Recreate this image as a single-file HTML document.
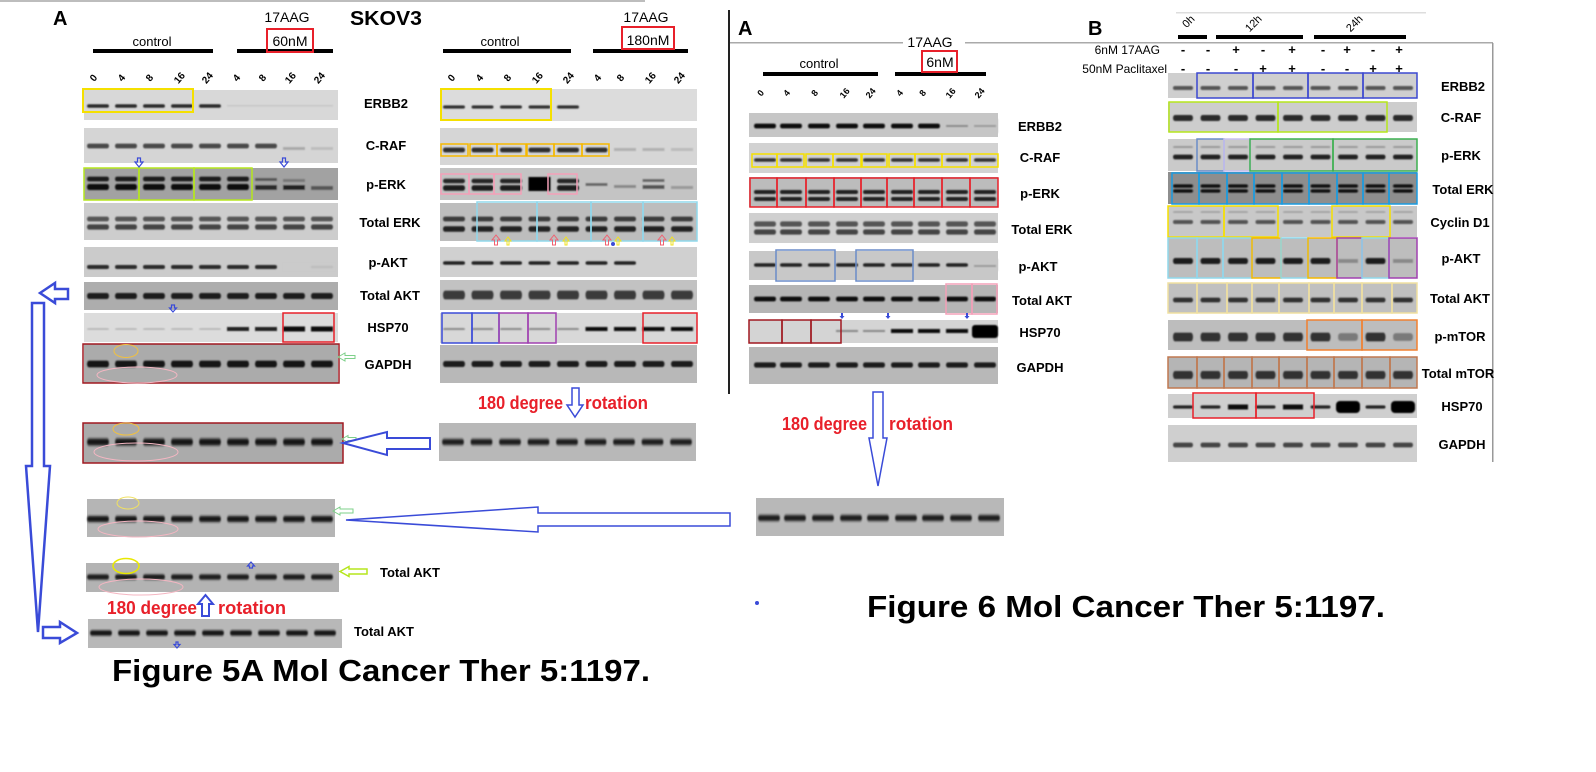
<!DOCTYPE html>
<html><head><meta charset="utf-8">
<style>html,body{margin:0;padding:0;background:#fff;}svg{display:block}</style>
</head><body>
<svg width="1596" height="772" viewBox="0 0 1596 772" xmlns="http://www.w3.org/2000/svg" xmlns:xlink="http://www.w3.org/1999/xlink" font-family="'Liberation Sans', Arial, sans-serif">
<defs>
<filter id="bl" x="-5%" y="-50%" width="110%" height="200%"><feGaussianBlur stdDeviation="0.8"/></filter>
<g id="r1"><rect x="87" y="-2" width="22" height="4" rx="2"/><rect x="115" y="-2" width="22" height="4" rx="2"/><rect x="143" y="-2" width="22" height="4" rx="2"/><rect x="171" y="-2" width="22" height="4" rx="2"/><rect x="199" y="-2" width="22" height="4" rx="2"/><rect x="227" y="-2" width="22" height="4" rx="2"/><rect x="255" y="-2" width="22" height="4" rx="2"/><rect x="283" y="-2" width="22" height="4" rx="2"/><rect x="311" y="-2" width="22" height="4" rx="2"/></g>
<g id="r2"><rect x="443" y="-2" width="22" height="4" rx="2"/><rect x="471.5" y="-2" width="22" height="4" rx="2"/><rect x="500" y="-2" width="22" height="4" rx="2"/><rect x="528.5" y="-2" width="22" height="4" rx="2"/><rect x="557" y="-2" width="22" height="4" rx="2"/><rect x="585.5" y="-2" width="22" height="4" rx="2"/><rect x="614" y="-2" width="22" height="4" rx="2"/><rect x="642.5" y="-2" width="22" height="4" rx="2"/><rect x="671" y="-2" width="22" height="4" rx="2"/></g>
<g id="r3"><rect x="754" y="-2" width="22" height="4" rx="2"/><rect x="780" y="-2" width="22" height="4" rx="2"/><rect x="808" y="-2" width="22" height="4" rx="2"/><rect x="836" y="-2" width="22" height="4" rx="2"/><rect x="863" y="-2" width="22" height="4" rx="2"/><rect x="891" y="-2" width="22" height="4" rx="2"/><rect x="918" y="-2" width="22" height="4" rx="2"/><rect x="946" y="-2" width="22" height="4" rx="2"/><rect x="974" y="-2" width="22" height="4" rx="2"/></g>
<g id="r4"><rect x="1173" y="-2" width="20" height="4" rx="2"/><rect x="1200.5" y="-2" width="20" height="4" rx="2"/><rect x="1228" y="-2" width="20" height="4" rx="2"/><rect x="1255.5" y="-2" width="20" height="4" rx="2"/><rect x="1283" y="-2" width="20" height="4" rx="2"/><rect x="1310.5" y="-2" width="20" height="4" rx="2"/><rect x="1338" y="-2" width="20" height="4" rx="2"/><rect x="1365.5" y="-2" width="20" height="4" rx="2"/><rect x="1393" y="-2" width="20" height="4" rx="2"/></g>
</defs>

<!-- top faint line -->
<rect x="0" y="0" width="645" height="2" fill="#bdbdbd"/>

<!-- ================= PANEL 1 ================= -->
<text x="53" y="25" font-size="20" font-weight="bold">A</text>
<text x="287" y="22" font-size="14" text-anchor="middle">17AAG</text>
<text x="350" y="25" font-size="20" font-weight="bold" textLength="72" lengthAdjust="spacingAndGlyphs">SKOV3</text>
<text x="152" y="46" font-size="13" text-anchor="middle">control</text>
<rect x="93" y="49" width="120" height="4" fill="#000"/>
<rect x="237" y="49" width="96" height="4" fill="#000"/>
<text x="290" y="46" font-size="14" text-anchor="middle">60nM</text>
<rect x="267" y="29" width="46" height="23" fill="none" stroke="#e8202a" stroke-width="2"/>
<g font-size="10" font-weight="bold" text-anchor="middle">
<text transform="translate(96,80) rotate(-50)">0</text>
<text transform="translate(124,80) rotate(-50)">4</text>
<text transform="translate(152,80) rotate(-50)">8</text>
<text transform="translate(182,80) rotate(-50)">16</text>
<text transform="translate(210,80) rotate(-50)">24</text>
<text transform="translate(239,80) rotate(-50)">4</text>
<text transform="translate(265,80) rotate(-50)">8</text>
<text transform="translate(293,80) rotate(-50)">16</text>
<text transform="translate(322,80) rotate(-50)">24</text>
</g>
<g>
<rect x="84" y="90" width="254" height="30" fill="#d8d8d8"/>
<rect x="84" y="128" width="254" height="35" fill="#d5d5d5"/>
<rect x="84" y="168" width="254" height="32" fill="#a2a2a2"/>
<rect x="84" y="203" width="254" height="37" fill="#cdcdcd"/>
<rect x="84" y="247" width="254" height="30" fill="#cbcbcb"/>
<rect x="84" y="282" width="254" height="28" fill="#adadad"/>
<rect x="84" y="313" width="254" height="29" fill="#dcdcdc"/>
<rect x="84" y="344" width="254" height="39" fill="#ababab"/>
</g>
<g filter="url(#bl)">
<use xlink:href="#r1" transform="translate(0,106) scale(1,0.9)" fill="#2a2a2a"/>
<rect x="225" y="100" width="112" height="12" fill="#d8d8d8"/>
<rect x="227" y="105" width="106" height="1.5" fill="#c6c6c6"/>
<use xlink:href="#r1" transform="translate(0,146) scale(1,1.2)" fill="#4a4a4a"/>
<rect x="281" y="139" width="56" height="15" fill="#d5d5d5"/>
<rect x="283" y="147" width="22" height="3" fill="#a8a8a8"/><rect x="311" y="147" width="22" height="3" fill="#bdbdbd"/>
<use xlink:href="#r1" transform="translate(0,179) scale(1,1.2)" fill="#1e1e1e"/>
<use xlink:href="#r1" transform="translate(0,187) scale(1,1.5)" fill="#0e0e0e"/>
<rect x="253" y="172" width="84" height="24" fill="#a2a2a2"/>
<rect x="255" y="178" width="22" height="3" fill="#555"/><rect x="255" y="185" width="22" height="5" fill="#2a2a2a"/>
<rect x="283" y="179" width="22" height="3" fill="#777"/><rect x="283" y="185" width="22" height="5" fill="#222"/>
<rect x="311" y="186" width="22" height="4" fill="#555"/>
<use xlink:href="#r1" transform="translate(0,219) scale(1,1.2)" fill="#555"/>
<use xlink:href="#r1" transform="translate(0,227) scale(1,1.3)" fill="#444"/>
<use xlink:href="#r1" transform="translate(0,267)" fill="#2a2a2a"/>
<rect x="281" y="261" width="56" height="12" fill="#cbcbcb"/>
<rect x="311" y="266" width="22" height="2" fill="#bbb"/>
<use xlink:href="#r1" transform="translate(0,296) scale(1,1.5)" fill="#1e1e1e"/>
<use xlink:href="#r1" transform="translate(0,329) scale(1,0.4)" fill="#b0b0b0"/>
<rect x="227" y="327" width="22" height="4" fill="#222"/><rect x="255" y="327" width="22" height="4" fill="#222"/>
<rect x="283" y="326.5" width="22" height="5" fill="#111"/><rect x="311" y="326.5" width="22" height="5" fill="#111"/>
<use xlink:href="#r1" transform="translate(0,364) scale(1,1.7)" fill="#151515"/>
</g>
<!-- P1 overlays -->
<rect x="83" y="89" width="110" height="23" fill="none" stroke="#f5e000" stroke-width="2"/>
<g fill="none" stroke="#b5e61d" stroke-width="1.5">
<rect x="84" y="168" width="55" height="32"/><rect x="139" y="168" width="55" height="32"/><rect x="194" y="168" width="58" height="32"/>
</g>
<rect x="283" y="313" width="51" height="29" fill="none" stroke="#e8202a" stroke-width="1.5"/>
<rect x="83" y="344" width="256" height="39" fill="none" stroke="#a01820" stroke-width="1.5"/>
<ellipse cx="126" cy="351" rx="12" ry="6.5" fill="none" stroke="#f0c040" stroke-width="1"/>
<ellipse cx="137" cy="375" rx="40" ry="8" fill="none" stroke="#f4b6c2" stroke-width="1"/>
<polygon points="338,357 345,353 345,355.5 355,355.5 355,358.5 345,358.5 345,361" fill="none" stroke="#7ed08a" stroke-width="1"/>
<g fill="none" stroke="#3a4bd8" stroke-width="1.2">
<polygon points="139,167 135,162 137.5,162 137.5,158 140.5,158 140.5,162 143,162"/>
<polygon points="284,167 280,162 282.5,162 282.5,158 285.5,158 285.5,162 288,162"/>
<polygon points="173,312 169.5,308 171.5,308 171.5,305 174.5,305 174.5,308 176.5,308"/>
</g>
<g font-size="13" font-weight="bold" text-anchor="middle">
<text x="386" y="108">ERBB2</text>
<text x="386" y="150">C-RAF</text>
<text x="386" y="189">p-ERK</text>
<text x="390" y="227">Total ERK</text>
<text x="388" y="267">p-AKT</text>
<text x="390" y="300">Total AKT</text>
<text x="388" y="332">HSP70</text>
<text x="388" y="369">GAPDH</text>
</g>

<!-- GAPDH copy -->
<rect x="83" y="423" width="260" height="40" fill="#ababab"/>
<use xlink:href="#r1" transform="translate(0,442) scale(1,1.7)" fill="#151515" filter="url(#bl)"/>
<rect x="83" y="423" width="260" height="40" fill="none" stroke="#a01820" stroke-width="1.5"/>
<ellipse cx="126" cy="429" rx="13" ry="6" fill="none" stroke="#f0c040" stroke-width="1"/>
<ellipse cx="136" cy="452" rx="42" ry="9" fill="none" stroke="#f4b6c2" stroke-width="1"/>
<polygon points="342,439 348,435.5 348,437.5 356,437.5 356,440.5 348,440.5 348,442.5" fill="none" stroke="#7ed08a" stroke-width="1"/>
<polygon points="343,443 387,432 387,438 430,438 430,449 387,449 387,455" fill="#fff" stroke="#3a4bd8" stroke-width="2"/>

<!-- rot1 -->
<rect x="87" y="499" width="248" height="38" fill="#b5b5b5"/>
<use xlink:href="#r1" transform="translate(0,519) scale(1,1.5)" fill="#151515" filter="url(#bl)"/>
<ellipse cx="128" cy="503" rx="11" ry="6" fill="none" stroke="#f0e060" stroke-width="1"/>
<ellipse cx="138" cy="529" rx="40" ry="8" fill="none" stroke="#f4b6c2" stroke-width="1"/>
<polygon points="333,511 340,507 340,509 353,509 353,513 340,513 340,515" fill="none" stroke="#7ed08a" stroke-width="1"/>
<polygon points="346,520 538,507 538,513 730,513 730,526 538,526 538,532" fill="#fff" stroke="#3a4bd8" stroke-width="1.5"/>

<!-- Total AKT copy -->
<rect x="86" y="563" width="253" height="29" fill="#b3b3b3"/>
<use xlink:href="#r1" transform="translate(0,577) scale(1,1.3)" fill="#1e1e1e" filter="url(#bl)"/>
<ellipse cx="126" cy="566" rx="13" ry="7.5" fill="none" stroke="#e8e800" stroke-width="1.5"/>
<ellipse cx="141" cy="587" rx="42" ry="8" fill="none" stroke="#f4b6c2" stroke-width="1"/>
<polygon points="251,562 247.5,566 249.5,566 249.5,568 252.5,568 252.5,566 254.5,566" fill="none" stroke="#3a4bd8" stroke-width="1.2"/>
<polygon points="340,571.5 349,566.5 349,569 367,569 367,574 349,574 349,576.5" fill="none" stroke="#b5e61d" stroke-width="1.5"/>
<text x="380" y="577" font-size="13" font-weight="bold">Total AKT</text>
<text x="107" y="614" font-size="18" font-weight="bold" fill="#e8202a" textLength="90" lengthAdjust="spacingAndGlyphs">180 degree</text>
<polygon points="205.5,595 198,604 202,604 202,616 209,616 209,604 213,604" fill="#fff" stroke="#3a4bd8" stroke-width="2"/>
<text x="218" y="614" font-size="18" font-weight="bold" fill="#e8202a" textLength="68" lengthAdjust="spacingAndGlyphs">rotation</text>

<!-- bottom blot -->
<rect x="88" y="619" width="254" height="29" fill="#b8b8b8"/>
<use xlink:href="#r1" transform="translate(3,633) scale(1,1.3)" fill="#151515" filter="url(#bl)"/>
<polygon points="177,648 174,644.5 176,644.5 176,642 178,642 178,644.5 180,644.5" fill="none" stroke="#3a4bd8" stroke-width="1.2"/>
<text x="354" y="636" font-size="13" font-weight="bold">Total AKT</text>

<!-- left long arrow -->
<polygon points="40,293 55,283 55,289 68,289 68,299 55,299 55,303" fill="#fff" stroke="#3a4bd8" stroke-width="2.5"/>
<polygon points="32,303 44,303 44,466 50,466 38,632 26,466 32,466" fill="#fff" stroke="#3a4bd8" stroke-width="2.5"/>
<polygon points="43,627 60,627 60,622 77,633 60,643 60,638 43,638" fill="#fff" stroke="#3a4bd8" stroke-width="2.5"/>

<text x="112" y="681" font-size="31" font-weight="bold" textLength="538" lengthAdjust="spacingAndGlyphs">Figure 5A Mol Cancer Ther 5:1197.</text>

<!-- ================= PANEL 2 ================= -->
<text x="646" y="22" font-size="14" text-anchor="middle">17AAG</text>
<text x="500" y="46" font-size="13" text-anchor="middle">control</text>
<rect x="443" y="49" width="128" height="4" fill="#000"/>
<rect x="593" y="49" width="95" height="4" fill="#000"/>
<text x="648" y="45" font-size="14" text-anchor="middle">180nM</text>
<rect x="622" y="27" width="52" height="22" fill="none" stroke="#e8202a" stroke-width="2"/>
<g font-size="10" font-weight="bold" text-anchor="middle">
<text transform="translate(454,80) rotate(-50)">0</text>
<text transform="translate(482,80) rotate(-50)">4</text>
<text transform="translate(510,80) rotate(-50)">8</text>
<text transform="translate(540,80) rotate(-50)">16</text>
<text transform="translate(571,80) rotate(-50)">24</text>
<text transform="translate(600,80) rotate(-50)">4</text>
<text transform="translate(623,80) rotate(-50)">8</text>
<text transform="translate(653,80) rotate(-50)">16</text>
<text transform="translate(682,80) rotate(-50)">24</text>
</g>
<g>
<rect x="440" y="89" width="257" height="32" fill="#dcdcdc"/>
<rect x="440" y="128" width="257" height="37" fill="#d6d6d6"/>
<rect x="440" y="168" width="257" height="32" fill="#c4c4c4"/>
<rect x="440" y="203" width="257" height="38" fill="#bdbdbd"/>
<rect x="440" y="247" width="257" height="30" fill="#d0d0d0"/>
<rect x="440" y="280" width="257" height="30" fill="#c2c2c2"/>
<rect x="440" y="313" width="257" height="30" fill="#d8d8d8"/>
<rect x="440" y="345" width="257" height="38" fill="#b8b8b8"/>
</g>
<g filter="url(#bl)">
<use xlink:href="#r2" transform="translate(0,107) scale(1,0.8)" fill="#333"/>
<rect x="582" y="100" width="114" height="13" fill="#dcdcdc"/>
<use xlink:href="#r2" transform="translate(0,150) scale(1,1.2)" fill="#2e2e2e"/>
<rect x="612" y="142" width="84" height="16" fill="#d6d6d6"/>
<rect x="614" y="148" width="22" height="3" fill="#b0b0b0"/><rect x="642.5" y="148" width="22" height="3" fill="#b0b0b0"/><rect x="671" y="148" width="22" height="3" fill="#bbb"/>
<use xlink:href="#r2" transform="translate(0,181) scale(1,1.1)" fill="#262626"/>
<use xlink:href="#r2" transform="translate(0,188) scale(1,1.4)" fill="#1a1a1a"/>
<rect x="528.5" y="177" width="22" height="14" fill="#050505"/>
<rect x="584" y="172" width="112" height="24" fill="#c4c4c4"/>
<rect x="585.5" y="183" width="22" height="3" fill="#666"/>
<rect x="614" y="185" width="22" height="3" fill="#888"/>
<rect x="642.5" y="179" width="22" height="3" fill="#666"/><rect x="642.5" y="185" width="22" height="4" fill="#555"/>
<rect x="671" y="186" width="22" height="3" fill="#999"/>
<use xlink:href="#r2" transform="translate(0,219) scale(1,1.2)" fill="#3a3a3a"/>
<use xlink:href="#r2" transform="translate(0,229) scale(1,1.4)" fill="#222"/>
<use xlink:href="#r2" transform="translate(0,263) scale(1,0.9)" fill="#222"/>
<rect x="639" y="257" width="57" height="12" fill="#d0d0d0"/>
<use xlink:href="#r2" transform="translate(0,295) scale(1,2.2)" fill="#3a3a3a"/>
<use xlink:href="#r2" transform="translate(0,329) scale(1,0.5)" fill="#8a8a8a"/>
<rect x="585.5" y="327" width="22" height="4" fill="#111"/><rect x="614" y="327" width="22" height="4" fill="#111"/><rect x="642.5" y="327" width="22" height="4" fill="#111"/><rect x="671" y="327" width="22" height="4" fill="#111"/>
<use xlink:href="#r2" transform="translate(0,364) scale(1,1.5)" fill="#1e1e1e"/>
</g>
<!-- P2 overlays -->
<rect x="441" y="89" width="110" height="31" fill="none" stroke="#f5e000" stroke-width="2"/>
<g fill="none" stroke="#f5b800" stroke-width="1.5">
<rect x="441" y="144" width="27" height="12"/><rect x="470" y="144" width="27" height="12"/><rect x="497" y="144" width="29" height="12"/><rect x="527" y="144" width="27" height="12"/><rect x="554" y="144" width="28" height="12"/><rect x="582" y="144" width="27" height="12"/>
</g>
<g fill="none" stroke="#f4a0b8" stroke-width="1.5">
<rect x="441" y="174" width="28" height="20"/><rect x="469" y="174" width="25" height="20"/><rect x="494" y="174" width="27" height="20"/><rect x="548" y="174" width="29" height="20"/>
</g>
<g fill="none" stroke="#90d8ec" stroke-width="1.5">
<rect x="477" y="202" width="60" height="39"/><rect x="537" y="202" width="54" height="39"/><rect x="591" y="202" width="52" height="39"/><rect x="643" y="202" width="54" height="39"/>
</g>
<g fill="none" stroke="#f06070" stroke-width="1">
<polygon points="496,235 492,240 494.5,240 494.5,245 497.5,245 497.5,240 500,240"/>
<polygon points="554,235 550,240 552.5,240 552.5,245 555.5,245 555.5,240 558,240"/>
<polygon points="607,235 603,240 605.5,240 605.5,245 608.5,245 608.5,240 611,240"/>
<polygon points="662,235 658,240 660.5,240 660.5,245 663.5,245 663.5,240 666,240"/>
</g>
<g fill="none" stroke="#f0e020" stroke-width="1">
<polygon points="508,237 505,241 507,241 507,245 509,245 509,241 511,241"/>
<polygon points="566,237 563,241 565,241 565,245 567,245 567,241 569,241"/>
<polygon points="618,237 615,241 617,241 617,245 619,245 619,241 621,241"/>
<polygon points="672,237 669,241 671,241 671,245 673,245 673,241 675,241"/>
</g>
<circle cx="613" cy="244" r="2" fill="#3a4bd8"/>
<g fill="none" stroke-width="1.5">
<rect x="442" y="313" width="30" height="30" stroke="#3a4bd8"/><rect x="472" y="313" width="27" height="30" stroke="#3a4bd8"/>
<rect x="499" y="313" width="29" height="30" stroke="#a040b0"/><rect x="528" y="313" width="28" height="30" stroke="#a040b0"/>
<rect x="643" y="313" width="54" height="30" stroke="#e8202a"/>
</g>
<text x="478" y="409" font-size="18" font-weight="bold" fill="#e8202a" textLength="85" lengthAdjust="spacingAndGlyphs">180 degree</text>
<polygon points="572,388 579,388 579,405 583,405 575,417 567,405 572,405" fill="#fff" stroke="#3a4bd8" stroke-width="1.5"/>
<text x="585" y="409" font-size="18" font-weight="bold" fill="#e8202a" textLength="63" lengthAdjust="spacingAndGlyphs">rotation</text>
<rect x="439" y="423" width="257" height="38" fill="#b8b8b8"/>
<use xlink:href="#r2" transform="translate(-1,442) scale(1,1.5)" fill="#1e1e1e" filter="url(#bl)"/>

<!-- ================= PANEL 3 ================= -->
<rect x="728" y="10" width="2" height="384" fill="#222"/>
<rect x="730" y="42" width="173" height="1.5" fill="#aaa"/>
<rect x="965" y="42" width="528" height="1.5" fill="#aaa"/>
<text x="738" y="35" font-size="20" font-weight="bold">A</text>
<text x="930" y="47" font-size="14" text-anchor="middle">17AAG</text>
<text x="819" y="68" font-size="13" text-anchor="middle">control</text>
<rect x="763" y="72" width="115" height="4" fill="#000"/>
<rect x="895" y="72" width="91" height="4" fill="#000"/>
<text x="940" y="67" font-size="14" text-anchor="middle">6nM</text>
<rect x="922" y="51" width="35" height="21" fill="none" stroke="#e8202a" stroke-width="2"/>
<g font-size="9" font-weight="bold" text-anchor="middle">
<text transform="translate(763,95) rotate(-50)">0</text>
<text transform="translate(789,95) rotate(-50)">4</text>
<text transform="translate(817,95) rotate(-50)">8</text>
<text transform="translate(847,95) rotate(-50)">16</text>
<text transform="translate(873,95) rotate(-50)">24</text>
<text transform="translate(902,95) rotate(-50)">4</text>
<text transform="translate(925,95) rotate(-50)">8</text>
<text transform="translate(953,95) rotate(-50)">16</text>
<text transform="translate(982,95) rotate(-50)">24</text>
</g>
<g>
<rect x="749" y="113" width="249" height="24" fill="#c6c6c6"/>
<rect x="749" y="143" width="249" height="30" fill="#d2d2d2"/>
<rect x="749" y="177" width="249" height="30" fill="#bcbcbc"/>
<rect x="749" y="213" width="249" height="30" fill="#d0d0d0"/>
<rect x="749" y="251" width="249" height="29" fill="#c8c8c8"/>
<rect x="749" y="285" width="249" height="28" fill="#b5b5b5"/>
<rect x="749" y="320" width="249" height="23" fill="#d4d4d4"/>
<rect x="749" y="347" width="249" height="37" fill="#b8b8b8"/>
</g>
<g filter="url(#bl)">
<use xlink:href="#r3" transform="translate(0,126) scale(1,1.2)" fill="#111"/>
<rect x="943" y="119" width="55" height="14" fill="#c6c6c6"/>
<rect x="946" y="125" width="22" height="2" fill="#888"/><rect x="974" y="125" width="22" height="2" fill="#999"/>
<use xlink:href="#r3" transform="translate(0,160) scale(1,0.9)" fill="#333"/>
<use xlink:href="#r3" transform="translate(0,192)" fill="#222"/>
<use xlink:href="#r3" transform="translate(0,199)" fill="#222"/>
<use xlink:href="#r3" transform="translate(0,224) scale(1,1.3)" fill="#555"/>
<use xlink:href="#r3" transform="translate(0,232) scale(1,1.3)" fill="#444"/>
<use xlink:href="#r3" transform="translate(0,265) scale(1,0.9)" fill="#222"/>
<rect x="972" y="259" width="26" height="12" fill="#c8c8c8"/>
<rect x="974" y="265" width="22" height="2" fill="#999"/>
<use xlink:href="#r3" transform="translate(0,299) scale(1,1.2)" fill="#111"/>
<rect x="836" y="330" width="22" height="2" fill="#888"/><rect x="863" y="330" width="22" height="2" fill="#888"/>
<rect x="891" y="329" width="22" height="4" fill="#111"/><rect x="918" y="329" width="22" height="4" fill="#111"/><rect x="946" y="329" width="22" height="4" fill="#111"/>
<rect x="972" y="325" width="26" height="13" rx="3" fill="#000"/>
<use xlink:href="#r3" transform="translate(0,365) scale(1,1.3)" fill="#1a1a1a"/>
</g>
<!-- P3 overlays -->
<g fill="none" stroke="#f5e000" stroke-width="1.5">
<rect x="752" y="154" width="25" height="13"/><rect x="777" y="154" width="27" height="13"/><rect x="806" y="154" width="27" height="13"/><rect x="833" y="154" width="28" height="13"/><rect x="862" y="154" width="25" height="13"/><rect x="889" y="154" width="26" height="13"/><rect x="915" y="154" width="27" height="13"/><rect x="942" y="154" width="28" height="13"/><rect x="970" y="154" width="28" height="13"/>
</g>
<g fill="none" stroke="#e8202a" stroke-width="1.5">
<rect x="750" y="178" width="27" height="29"/><rect x="777" y="178" width="29" height="29"/><rect x="806" y="178" width="28" height="29"/><rect x="834" y="178" width="27" height="29"/><rect x="861" y="178" width="26" height="29"/><rect x="887" y="178" width="27" height="29"/><rect x="914" y="178" width="28" height="29"/><rect x="942" y="178" width="28" height="29"/><rect x="970" y="178" width="28" height="29"/>
</g>
<g fill="none" stroke="#6a8cc8" stroke-width="1.5">
<rect x="776" y="250" width="59" height="31"/><rect x="856" y="250" width="57" height="31"/>
</g>
<g fill="none" stroke="#f4a0b8" stroke-width="1.5">
<rect x="946" y="284" width="26" height="30"/><rect x="972" y="284" width="25" height="30"/>
</g>
<g fill="none" stroke="#a01820" stroke-width="1.5">
<rect x="749" y="320" width="33" height="23"/><rect x="782" y="320" width="29" height="23"/><rect x="811" y="320" width="30" height="23"/>
</g>
<g fill="#3a4bd8">
<polygon points="842,319 839.5,316 841,316 841,313 843,313 843,316 844.5,316"/>
<polygon points="888,319 885.5,316 887,316 887,313 889,313 889,316 890.5,316"/>
<polygon points="967,319 964.5,316 966,316 966,313 968,313 968,316 969.5,316"/>
</g>
<g font-size="13" font-weight="bold" text-anchor="middle">
<text x="1040" y="131">ERBB2</text>
<text x="1040" y="162">C-RAF</text>
<text x="1040" y="198">p-ERK</text>
<text x="1042" y="234">Total ERK</text>
<text x="1038" y="271">p-AKT</text>
<text x="1042" y="305">Total AKT</text>
<text x="1040" y="337">HSP70</text>
<text x="1040" y="372">GAPDH</text>
</g>
<text x="782" y="430" font-size="18" font-weight="bold" fill="#e8202a" textLength="85" lengthAdjust="spacingAndGlyphs">180 degree</text>
<text x="889" y="430" font-size="18" font-weight="bold" fill="#e8202a" textLength="64" lengthAdjust="spacingAndGlyphs">rotation</text>
<polygon points="873,392 883,392 883,438 887,438 878,486 869,438 873,438" fill="#fff" stroke="#3a4bd8" stroke-width="1.5"/>
<rect x="756" y="498" width="248" height="38" fill="#b8b8b8"/>
<use xlink:href="#r3" transform="translate(4,518) scale(1,1.5)" fill="#1a1a1a" filter="url(#bl)"/>
<circle cx="757" cy="603" r="2" fill="#3a4bd8"/>
<text x="867" y="617" font-size="31" font-weight="bold" textLength="518" lengthAdjust="spacingAndGlyphs">Figure 6 Mol Cancer Ther 5:1197.</text>

<!-- ================= PANEL B ================= -->
<text x="1088" y="35" font-size="20" font-weight="bold">B</text>
<rect x="1176" y="12" width="250" height="1.5" fill="#ddd"/>
<g font-size="11" text-anchor="middle">
<text transform="translate(1191,24) rotate(-45)">0h</text>
<text transform="translate(1256,26) rotate(-45)">12h</text>
<text transform="translate(1357,26) rotate(-45)">24h</text>
</g>
<rect x="1178" y="35" width="29" height="4" fill="#000"/>
<rect x="1216" y="35" width="87" height="4" fill="#000"/>
<rect x="1314" y="35" width="92" height="4" fill="#000"/>
<rect x="1492" y="43" width="1.5" height="419" fill="#999"/>
<text x="1160" y="54" font-size="12" text-anchor="end">6nM 17AAG</text>
<text x="1167" y="73" font-size="12" text-anchor="end">50nM Paclitaxel</text>
<g font-size="13" font-weight="bold" text-anchor="middle">
<text x="1183" y="54">-</text><text x="1208" y="54">-</text><text x="1236" y="54">+</text><text x="1263" y="54">-</text><text x="1292" y="54">+</text><text x="1323" y="54">-</text><text x="1347" y="54">+</text><text x="1373" y="54">-</text><text x="1399" y="54">+</text>
<text x="1183" y="73">-</text><text x="1208" y="73">-</text><text x="1236" y="73">-</text><text x="1263" y="73">+</text><text x="1292" y="73">+</text><text x="1323" y="73">-</text><text x="1347" y="73">-</text><text x="1373" y="73">+</text><text x="1399" y="73">+</text>
</g>
<g>
<rect x="1168" y="73" width="249" height="25" fill="#cfcfcf"/>
<rect x="1168" y="102" width="249" height="30" fill="#cdcdcd"/>
<rect x="1168" y="139" width="249" height="32" fill="#cacaca"/>
<rect x="1168" y="172" width="249" height="32" fill="#8e8e8e"/>
<rect x="1168" y="206" width="249" height="31" fill="#c8c8c8"/>
<rect x="1168" y="238" width="249" height="40" fill="#bdbdbd"/>
<rect x="1168" y="283" width="249" height="30" fill="#c0c0c0"/>
<rect x="1168" y="320" width="249" height="30" fill="#bdbdbd"/>
<rect x="1168" y="357" width="249" height="31" fill="#b5b5b5"/>
<rect x="1168" y="394" width="249" height="24" fill="#cfcfcf"/>
<rect x="1168" y="425" width="249" height="37" fill="#cfcfcf"/>
</g>
<g filter="url(#bl)">
<use xlink:href="#r4" transform="translate(0,88)" fill="#555"/>
<use xlink:href="#r4" transform="translate(0,118) scale(1,1.5)" fill="#2a2a2a"/>
<use xlink:href="#r4" transform="translate(0,147) scale(1,0.5)" fill="#999"/>
<use xlink:href="#r4" transform="translate(0,157) scale(1,1.2)" fill="#222"/>
<use xlink:href="#r4" transform="translate(0,186) scale(1,0.8)" fill="#111"/>
<use xlink:href="#r4" transform="translate(0,191) scale(1,0.8)" fill="#111"/>
<use xlink:href="#r4" transform="translate(0,212) scale(1,0.4)" fill="#999"/>
<use xlink:href="#r4" transform="translate(0,222)" fill="#555"/>
<use xlink:href="#r4" transform="translate(0,261) scale(1,1.5)" fill="#1e1e1e"/>
<rect x="1336" y="254" width="24" height="14" fill="#bdbdbd"/><rect x="1391" y="254" width="24" height="14" fill="#bdbdbd"/>
<rect x="1338" y="259" width="20" height="4" fill="#888"/><rect x="1393" y="259" width="20" height="4" fill="#888"/>
<use xlink:href="#r4" transform="translate(0,300) scale(1,1.2)" fill="#333"/>
<use xlink:href="#r4" transform="translate(0,337) scale(1,2.2)" fill="#333"/>
<rect x="1336" y="329" width="24" height="16" fill="#bdbdbd"/><rect x="1391" y="329" width="24" height="16" fill="#bdbdbd"/>
<rect x="1338" y="333" width="20" height="8" rx="3" fill="#7a7a7a"/><rect x="1393" y="333" width="20" height="8" rx="3" fill="#7a7a7a"/>
<use xlink:href="#r4" transform="translate(0,375) scale(1,2)" fill="#333"/>
<use xlink:href="#r4" transform="translate(0,407) scale(1,0.8)" fill="#222"/>
<rect x="1228" y="404.5" width="20" height="5" fill="#111"/><rect x="1283" y="404.5" width="20" height="5" fill="#111"/>
<rect x="1336" y="401" width="24" height="12" rx="4" fill="#000"/><rect x="1391" y="401" width="24" height="12" rx="4" fill="#000"/>
<use xlink:href="#r4" transform="translate(0,445) scale(1,1.2)" fill="#444"/>
</g>
<!-- B overlays -->
<g fill="none" stroke="#3c48d0" stroke-width="1.5">
<rect x="1197" y="73" width="56" height="25"/><rect x="1253" y="73" width="55" height="25"/><rect x="1308" y="73" width="55" height="25"/><rect x="1363" y="73" width="54" height="25"/>
</g>
<g fill="none" stroke="#b5e61d" stroke-width="1.5">
<rect x="1169" y="102" width="109" height="30"/><rect x="1278" y="102" width="109" height="30"/>
</g>
<g fill="none" stroke-width="1.5">
<rect x="1197" y="139" width="27" height="32" stroke="#6a8cc8"/>
<rect x="1224" y="139" width="26" height="32" stroke="#c8c0f0"/>
<rect x="1250" y="139" width="83" height="32" stroke="#3cb050"/>
<rect x="1333" y="139" width="84" height="32" stroke="#3cb050"/>
</g>
<g fill="none" stroke="#1a9be0" stroke-width="1.5">
<rect x="1172" y="173" width="27" height="31"/><rect x="1199" y="173" width="28" height="31"/><rect x="1227" y="173" width="27" height="31"/><rect x="1254" y="173" width="28" height="31"/><rect x="1282" y="173" width="27" height="31"/><rect x="1309" y="173" width="28" height="31"/><rect x="1337" y="173" width="26" height="31"/><rect x="1363" y="173" width="26" height="31"/><rect x="1389" y="173" width="28" height="31"/>
</g>
<g fill="none" stroke="#f5e000" stroke-width="1.5">
<rect x="1168" y="206" width="56" height="31"/><rect x="1224" y="206" width="54" height="31"/><rect x="1332" y="206" width="58" height="31"/>
</g>
<g fill="none" stroke-width="1.5">
<rect x="1168" y="238" width="29" height="40" stroke="#90d8ec"/>
<rect x="1197" y="238" width="26" height="40" stroke="#90d8ec"/>
<rect x="1223" y="238" width="29" height="40" stroke="#90d8ec"/>
<rect x="1252" y="238" width="29" height="40" stroke="#f5b800"/>
<rect x="1281" y="238" width="27" height="40" stroke="#90d8ec"/>
<rect x="1308" y="238" width="29" height="40" stroke="#f5b800"/>
<rect x="1337" y="238" width="25" height="40" stroke="#a040b0"/>
<rect x="1362" y="238" width="27" height="40" stroke="#90d8ec"/>
<rect x="1389" y="238" width="28" height="40" stroke="#a040b0"/>
</g>
<g fill="none" stroke="#f0e0a0" stroke-width="1.5">
<rect x="1168" y="283" width="29" height="30"/><rect x="1197" y="283" width="30" height="30"/><rect x="1227" y="283" width="25" height="30"/><rect x="1252" y="283" width="27" height="30"/><rect x="1279" y="283" width="30" height="30"/><rect x="1309" y="283" width="25" height="30"/><rect x="1334" y="283" width="28" height="30"/><rect x="1362" y="283" width="30" height="30"/><rect x="1392" y="283" width="25" height="30"/>
</g>
<g fill="none" stroke="#f08030" stroke-width="1.5">
<rect x="1307" y="320" width="55" height="30"/><rect x="1362" y="320" width="55" height="30"/>
</g>
<g fill="none" stroke="#c07850" stroke-width="1.5">
<rect x="1168" y="357" width="29" height="31"/><rect x="1197" y="357" width="27" height="31"/><rect x="1224" y="357" width="28" height="31"/><rect x="1252" y="357" width="27" height="31"/><rect x="1279" y="357" width="28" height="31"/><rect x="1307" y="357" width="27" height="31"/><rect x="1334" y="357" width="28" height="31"/><rect x="1362" y="357" width="28" height="31"/><rect x="1390" y="357" width="27" height="31"/>
</g>
<g fill="none" stroke="#e8202a" stroke-width="1.5">
<rect x="1193" y="393" width="63" height="25"/><rect x="1256" y="393" width="58" height="25"/>
</g>
<g font-size="13" font-weight="bold" text-anchor="middle">
<text x="1463" y="91">ERBB2</text>
<text x="1461" y="122">C-RAF</text>
<text x="1461" y="160">p-ERK</text>
<text x="1463" y="194">Total ERK</text>
<text x="1460" y="227">Cyclin D1</text>
<text x="1461" y="263">p-AKT</text>
<text x="1460" y="303">Total AKT</text>
<text x="1460" y="341">p-mTOR</text>
<text x="1458" y="378">Total mTOR</text>
<text x="1462" y="411">HSP70</text>
<text x="1462" y="449">GAPDH</text>
</g>
</svg>
</body></html>
